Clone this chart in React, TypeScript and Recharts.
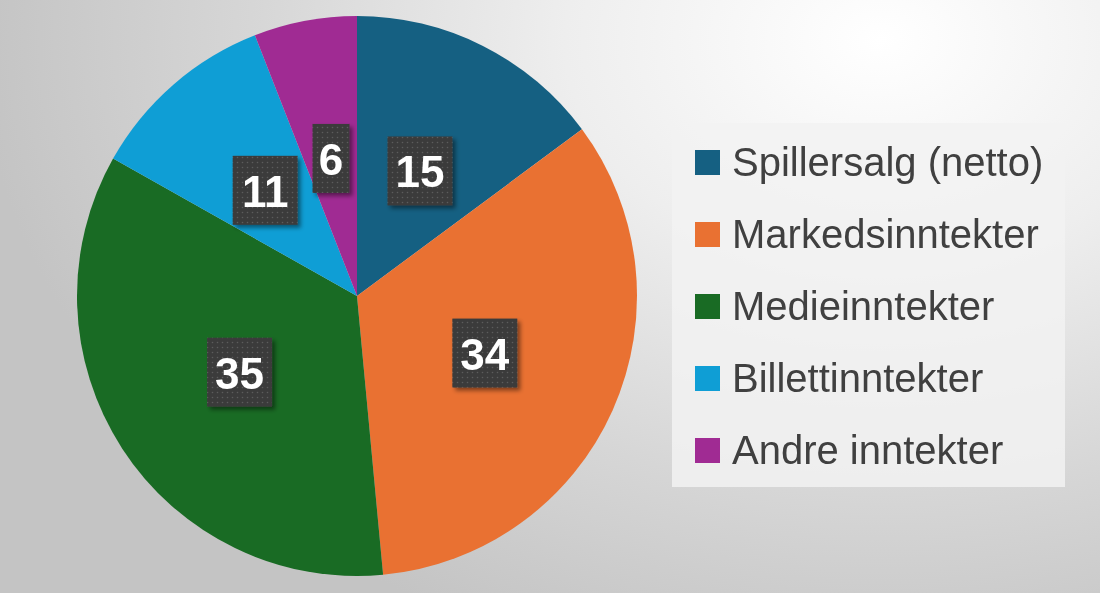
import { PieChart, Pie, Cell, Legend } from 'recharts';

const categories = ['Spillersalg (netto)', 'Markedsinntekter', 'Medieinntekter', 'Billettinntekter', 'Andre inntekter'];
const values = [15, 34, 35, 11, 6];
const COLORS = ['#156082', '#E97132', '#196B24', '#0F9ED5', '#A02B93'];

const data = categories.map((name, i) => ({ name, value: values[i] }));

const RAD = Math.PI / 180;

const BoxLabel = ({ cx, cy, midAngle, outerRadius, value }: any) => {
  const r = outerRadius * 0.5;
  const x = cx + r * Math.cos(-midAngle * RAD);
  const y = cy + r * Math.sin(-midAngle * RAD);
  const txt = String(value);
  const w = txt.length === 1 ? 37 : 65;
  const h = 69;
  return (
    <g>
      <rect x={x - w / 2} y={y - h / 2} width={w} height={h} fill="url(#dots)" filter="url(#shadow)" />
      <text
        x={x}
        y={y + 1}
        fill="#ffffff"
        textAnchor="middle"
        dominantBaseline="central"
        fontFamily="'Liberation Sans', Arial, sans-serif"
        fontWeight="bold"
        fontSize={44}
      >
        {txt}
      </text>
    </g>
  );
};

const LegendBox = ({ payload }: any) => {
  // keep the series order instead of the legend's sorted order
  const items = [...(payload || [])].sort((a: any, b: any) => categories.indexOf(a.value) - categories.indexOf(b.value));
  return (
    <div style={{ width: 393, height: 364, background: 'rgba(242,242,242,0.85)', paddingTop: 3, boxSizing: 'border-box' }}>
      {items.map((p: any, i: number) => (
        <div key={i} style={{ height: 72, display: 'flex', alignItems: 'center' }}>
          <span style={{ width: 25, height: 25, background: p.color, marginLeft: 23, marginRight: 12, display: 'inline-block' }} />
          <span style={{ fontFamily: "'Liberation Sans', Arial, sans-serif", fontSize: 40, color: '#404040', lineHeight: 1 }}>
            {p.value}
          </span>
        </div>
      ))}
    </div>
  );
};

export default function App() {
  return (
    <div
      style={{
        position: 'fixed',
        left: 0,
        top: 0,
        width: 1100,
        height: 593,
        background: 'radial-gradient(ellipse 900px 650px at 880px 40px, #ffffff 0%, #eeeeee 35%, #d6d6d6 70%, #c4c4c4 100%)',
      }}
    >
      <PieChart width={1100} height={593} margin={{ top: 0, right: 0, bottom: 0, left: 0 }}>
        <defs>
          <pattern id="dots" width="5" height="5" patternUnits="userSpaceOnUse">
            <rect width="5" height="5" fill="#3b3b3b" />
            <circle cx="2.5" cy="2.5" r="0.8" fill="#5c5c5c" />
          </pattern>
          <filter id="shadow" x="-30%" y="-30%" width="160%" height="160%">
            <feDropShadow dx="3" dy="3" stdDeviation="2" floodColor="#000" floodOpacity="0.45" />
          </filter>
        </defs>
        <Pie
          data={data}
          dataKey="value"
          nameKey="name"
          cx={357}
          cy={296}
          outerRadius={280}
          startAngle={90}
          endAngle={-270}
          stroke="none"
          labelLine={false}
          label={BoxLabel}
          isAnimationActive={false}
        >
          {data.map((_, i) => (
            <Cell key={`cell-${i}`} fill={COLORS[i]} />
          ))}
        </Pie>
        <Legend
          layout="vertical"
          content={<LegendBox />}
          wrapperStyle={{ position: 'absolute', left: 672, top: 123, width: 393, height: 364 }}
        />
      </PieChart>
    </div>
  );
}
